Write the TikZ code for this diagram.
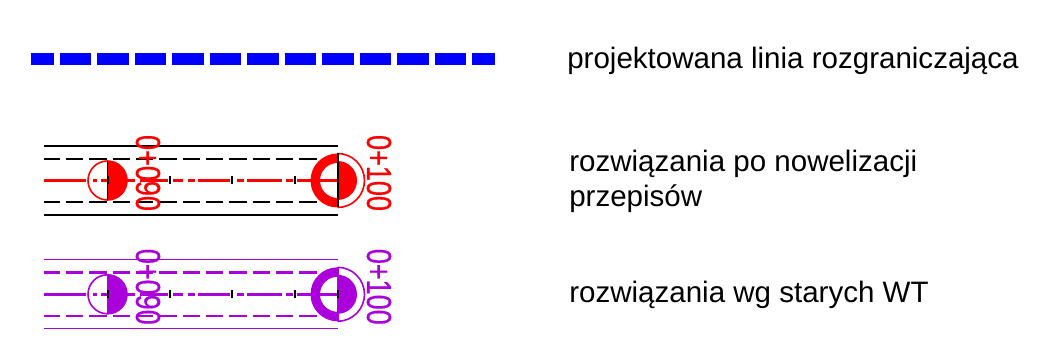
\documentclass[tikz,border=0pt]{standalone}
\usepackage{fontspec}
\setmainfont{Liberation Sans}
\newfontfamily\kmfont[FakeBold=0.6]{Liberation Sans}
\usepackage{tikz}
\definecolor{oldwt}{HTML}{AA00DC}
\tikzset{
	label/.style={anchor=base west, inner sep=0pt, font=\fontsize{22.15pt}{26pt}\selectfont},
	station/.style={rotate=-90, inner sep=0pt, font=\kmfont\fontsize{26pt}{26pt}\selectfont},
	boundary/.style={blue, line width=8.6pt, dash pattern=on 23.6pt off 4.5pt, dash phase=6.4pt},
	edgeline/.style={line width=0.95pt},
	laneline/.style={line width=1.9pt, dash pattern=on 13pt off 4.5pt, dash phase=1pt},
	axisline/.style={line width=1.9pt},
	axistick/.style={black, line width=1.5pt}
}
\newcommand{\kmlabel}[1]{\scalebox{0.78}[1]{#1}}
\begin{document}
\begin{tikzpicture}[x=0.75pt, y=0.75pt]
	\useasboundingbox (0,-359) rectangle (1060,0);
	\coordinate (bstart) at (31,-59);
	\coordinate (bend) at (495,-59);
	\draw[boundary] (bstart) -- (bend);
	\node (lblline) at (567,-69) [label] {projektowana linia rozgraniczająca};

	% two rows, only colours differ
	\foreach \rowy/\rowcol/\edgecol/\barcol in {-180.5/red/black/black, -294.3/oldwt/oldwt/oldwt} {
	\begin{scope}[yshift=\rowy*0.75pt]
		\draw[edgeline, \edgecol] (44,34.5) -- (338,34.5)
			  (44,-34.5) -- (338,-34.5);
		\draw[laneline, \barcol] (44,21.7) -- (317,21.7);
		\draw[laneline, \barcol] (44,-21.7) -- (317,-21.7);
		\foreach \xa/\xb in {44/86, 93/97, 101/127, 127/135, 140/168, 173/183, 188/195, 198/230, 237/244, 247/282, 286/293, 297/337}
			\draw[axisline, \rowcol] (\xa,0) -- (\xb,0);
		% left circle
		\fill[\rowcol] (107.5,19.5) arc[start angle=90, end angle=-90, radius=19.5] -- cycle;
		\draw[line width=1.2pt, \rowcol] (107.5,0) circle[radius=19.5];
		\draw[line width=1.4pt, \barcol] (107.5,19.5) -- (107.5,-19.5);
		% right circle
		\fill[\rowcol] (337.5,27) arc[start angle=90, end angle=270, radius=27]
			-- (337.5,-17.5) arc[start angle=270, end angle=90, radius=17.5] -- cycle;
		\fill[\rowcol] (337.5,19.5) arc[start angle=90, end angle=-90, radius=19.5] -- cycle;
		\draw[line width=1.2pt, \rowcol] (337.5,27) arc[start angle=90, end angle=-90, radius=27];
		\draw[axisline, \rowcol] (320,0) -- (337.5,0);
		\draw[line width=1.5pt, \barcol] (337.5,27) -- (337.5,-27);
		\foreach \tickx in {107.5, 170, 232, 295, 337.5}
			\draw[axistick] (\tickx,4) -- (\tickx,-4);
		\node at (148,7.5) [station, \rowcol] {\kmlabel{0+090}};
		\node at (379,7.5) [station, \rowcol] {\kmlabel{0+100}};
	\end{scope}
	}

	\node (lblnew) at (569,-172) [label] {rozwiązania po nowelizacji};
	\node (lblnewb) at (569,-207) [label] {przepisów};
	\node (lblold) at (569,-303) [label] {rozwiązania wg starych WT};
\end{tikzpicture}
\end{document}
